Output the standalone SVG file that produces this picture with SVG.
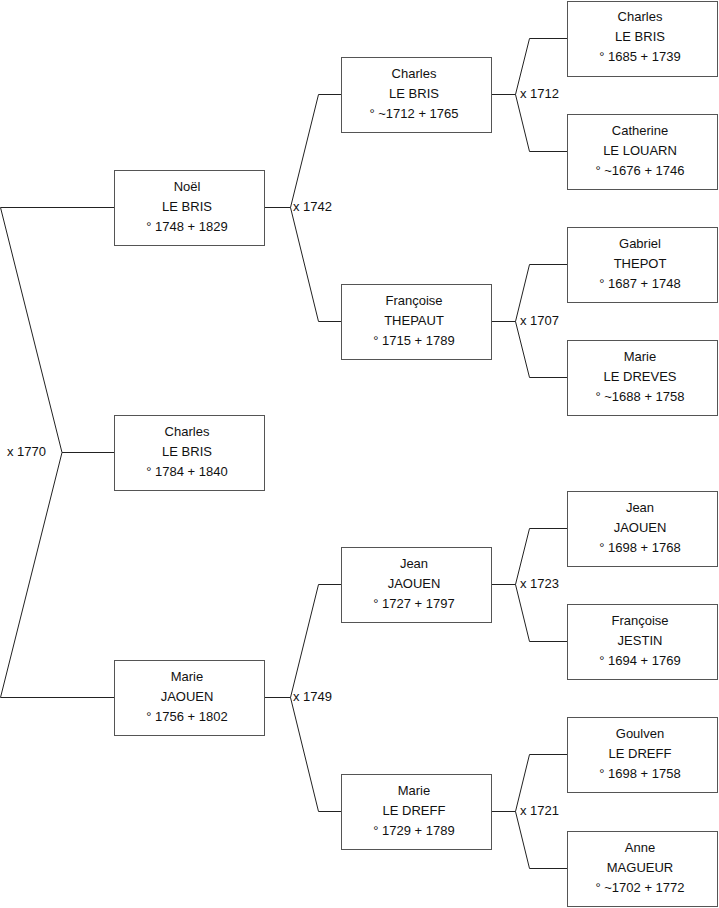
<svg xmlns="http://www.w3.org/2000/svg" width="719" height="908" viewBox="0 0 719 908">
<style>
.b{fill:#fff;stroke:#555;stroke-width:1}
.c{fill:none;stroke:#222;stroke-width:1}
text{font-family:"Liberation Sans",Arial,sans-serif;font-size:13px;fill:#111}
.t{text-anchor:middle}
</style>
<rect width="719" height="908" fill="#fff"/>
<g id="connectors">
<path class="c" d="M0.5,207.5H114.5M0.5,207.5L62,452.5L0.5,697.5H114.5M62,452.5H114.5"/>
<path class="c" d="M264.5,207.5H290.5L318.5,94.5H341.5M290.5,207.5L318.5,321.5H341.5"/>
<path class="c" d="M264.5,697.5H290.5L318.5,584.5H341.5M290.5,697.5L318.5,811.5H341.5"/>
<path class="c" d="M491.5,94.5H515.5L529.5,38.5H567.5M515.5,94.5L529.5,151.5H567.5"/>
<path class="c" d="M491.5,321.5H515.5L529.5,264.5H567.5M515.5,321.5L529.5,377.5H567.5"/>
<path class="c" d="M491.5,584.5H515.5L529.5,528.5H567.5M515.5,584.5L529.5,641.5H567.5"/>
<path class="c" d="M491.5,811.5H515.5L529.5,754.5H567.5M515.5,811.5L529.5,868.5H567.5"/>
<text x="7" y="456">x 1770</text>
<text x="293" y="211">x 1742</text>
<text x="293" y="701">x 1749</text>
<text x="520" y="98">x 1712</text>
<text x="520" y="325">x 1707</text>
<text x="520" y="588">x 1723</text>
<text x="520" y="815">x 1721</text>
</g>
<g id="n_noel"><rect class="b" x="114.5" y="170.5" width="150" height="75"/><text class="t" x="187" y="190.5">Noël</text><text class="t" x="187" y="210.5">LE BRIS</text><text class="t" x="187" y="230.5">° 1748 + 1829</text></g>
<g id="n_charles0"><rect class="b" x="114.5" y="415.5" width="150" height="75"/><text class="t" x="187" y="435.5">Charles</text><text class="t" x="187" y="455.5">LE BRIS</text><text class="t" x="187" y="475.5">° 1784 + 1840</text></g>
<g id="n_marie1"><rect class="b" x="114.5" y="660.5" width="150" height="75"/><text class="t" x="187" y="680.5">Marie</text><text class="t" x="187" y="700.5">JAOUEN</text><text class="t" x="187" y="720.5">° 1756 + 1802</text></g>
<g id="n_charles2"><rect class="b" x="341.5" y="57.5" width="150" height="75"/><text class="t" x="414" y="77.5">Charles</text><text class="t" x="414" y="97.5">LE BRIS</text><text class="t" x="414" y="117.5">° ~1712 + 1765</text></g>
<g id="n_francoise2"><rect class="b" x="341.5" y="284.5" width="150" height="75"/><text class="t" x="414" y="304.5">Françoise</text><text class="t" x="414" y="324.5">THEPAUT</text><text class="t" x="414" y="344.5">° 1715 + 1789</text></g>
<g id="n_jean2"><rect class="b" x="341.5" y="547.5" width="150" height="75"/><text class="t" x="414" y="567.5">Jean</text><text class="t" x="414" y="587.5">JAOUEN</text><text class="t" x="414" y="607.5">° 1727 + 1797</text></g>
<g id="n_marie2"><rect class="b" x="341.5" y="774.5" width="150" height="75"/><text class="t" x="414" y="794.5">Marie</text><text class="t" x="414" y="814.5">LE DREFF</text><text class="t" x="414" y="834.5">° 1729 + 1789</text></g>
<g id="n_charles3"><rect class="b" x="567.5" y="1.5" width="150" height="75"/><text class="t" x="640" y="21">Charles</text><text class="t" x="640" y="41">LE BRIS</text><text class="t" x="640" y="61">° 1685 + 1739</text></g>
<g id="n_catherine3"><rect class="b" x="567.5" y="114.5" width="150" height="75"/><text class="t" x="640" y="134.5">Catherine</text><text class="t" x="640" y="154.5">LE LOUARN</text><text class="t" x="640" y="174.5">° ~1676 + 1746</text></g>
<g id="n_gabriel3"><rect class="b" x="567.5" y="227.5" width="150" height="75"/><text class="t" x="640" y="247.5">Gabriel</text><text class="t" x="640" y="267.5">THEPOT</text><text class="t" x="640" y="287.5">° 1687 + 1748</text></g>
<g id="n_marie3"><rect class="b" x="567.5" y="340.5" width="150" height="75"/><text class="t" x="640" y="360.5">Marie</text><text class="t" x="640" y="380.5">LE DREVES</text><text class="t" x="640" y="400.5">° ~1688 + 1758</text></g>
<g id="n_jean3"><rect class="b" x="567.5" y="491.5" width="150" height="75"/><text class="t" x="640" y="511.5">Jean</text><text class="t" x="640" y="531.5">JAOUEN</text><text class="t" x="640" y="551.5">° 1698 + 1768</text></g>
<g id="n_francoise3"><rect class="b" x="567.5" y="604.5" width="150" height="75"/><text class="t" x="640" y="624.5">Françoise</text><text class="t" x="640" y="644.5">JESTIN</text><text class="t" x="640" y="664.5">° 1694 + 1769</text></g>
<g id="n_goulven3"><rect class="b" x="567.5" y="717.5" width="150" height="75"/><text class="t" x="640" y="737.5">Goulven</text><text class="t" x="640" y="757.5">LE DREFF</text><text class="t" x="640" y="777.5">° 1698 + 1758</text></g>
<g id="n_anne3"><rect class="b" x="567.5" y="831.5" width="150" height="75"/><text class="t" x="640" y="851.5">Anne</text><text class="t" x="640" y="871.5">MAGUEUR</text><text class="t" x="640" y="891.5">° ~1702 + 1772</text></g>
</svg>
